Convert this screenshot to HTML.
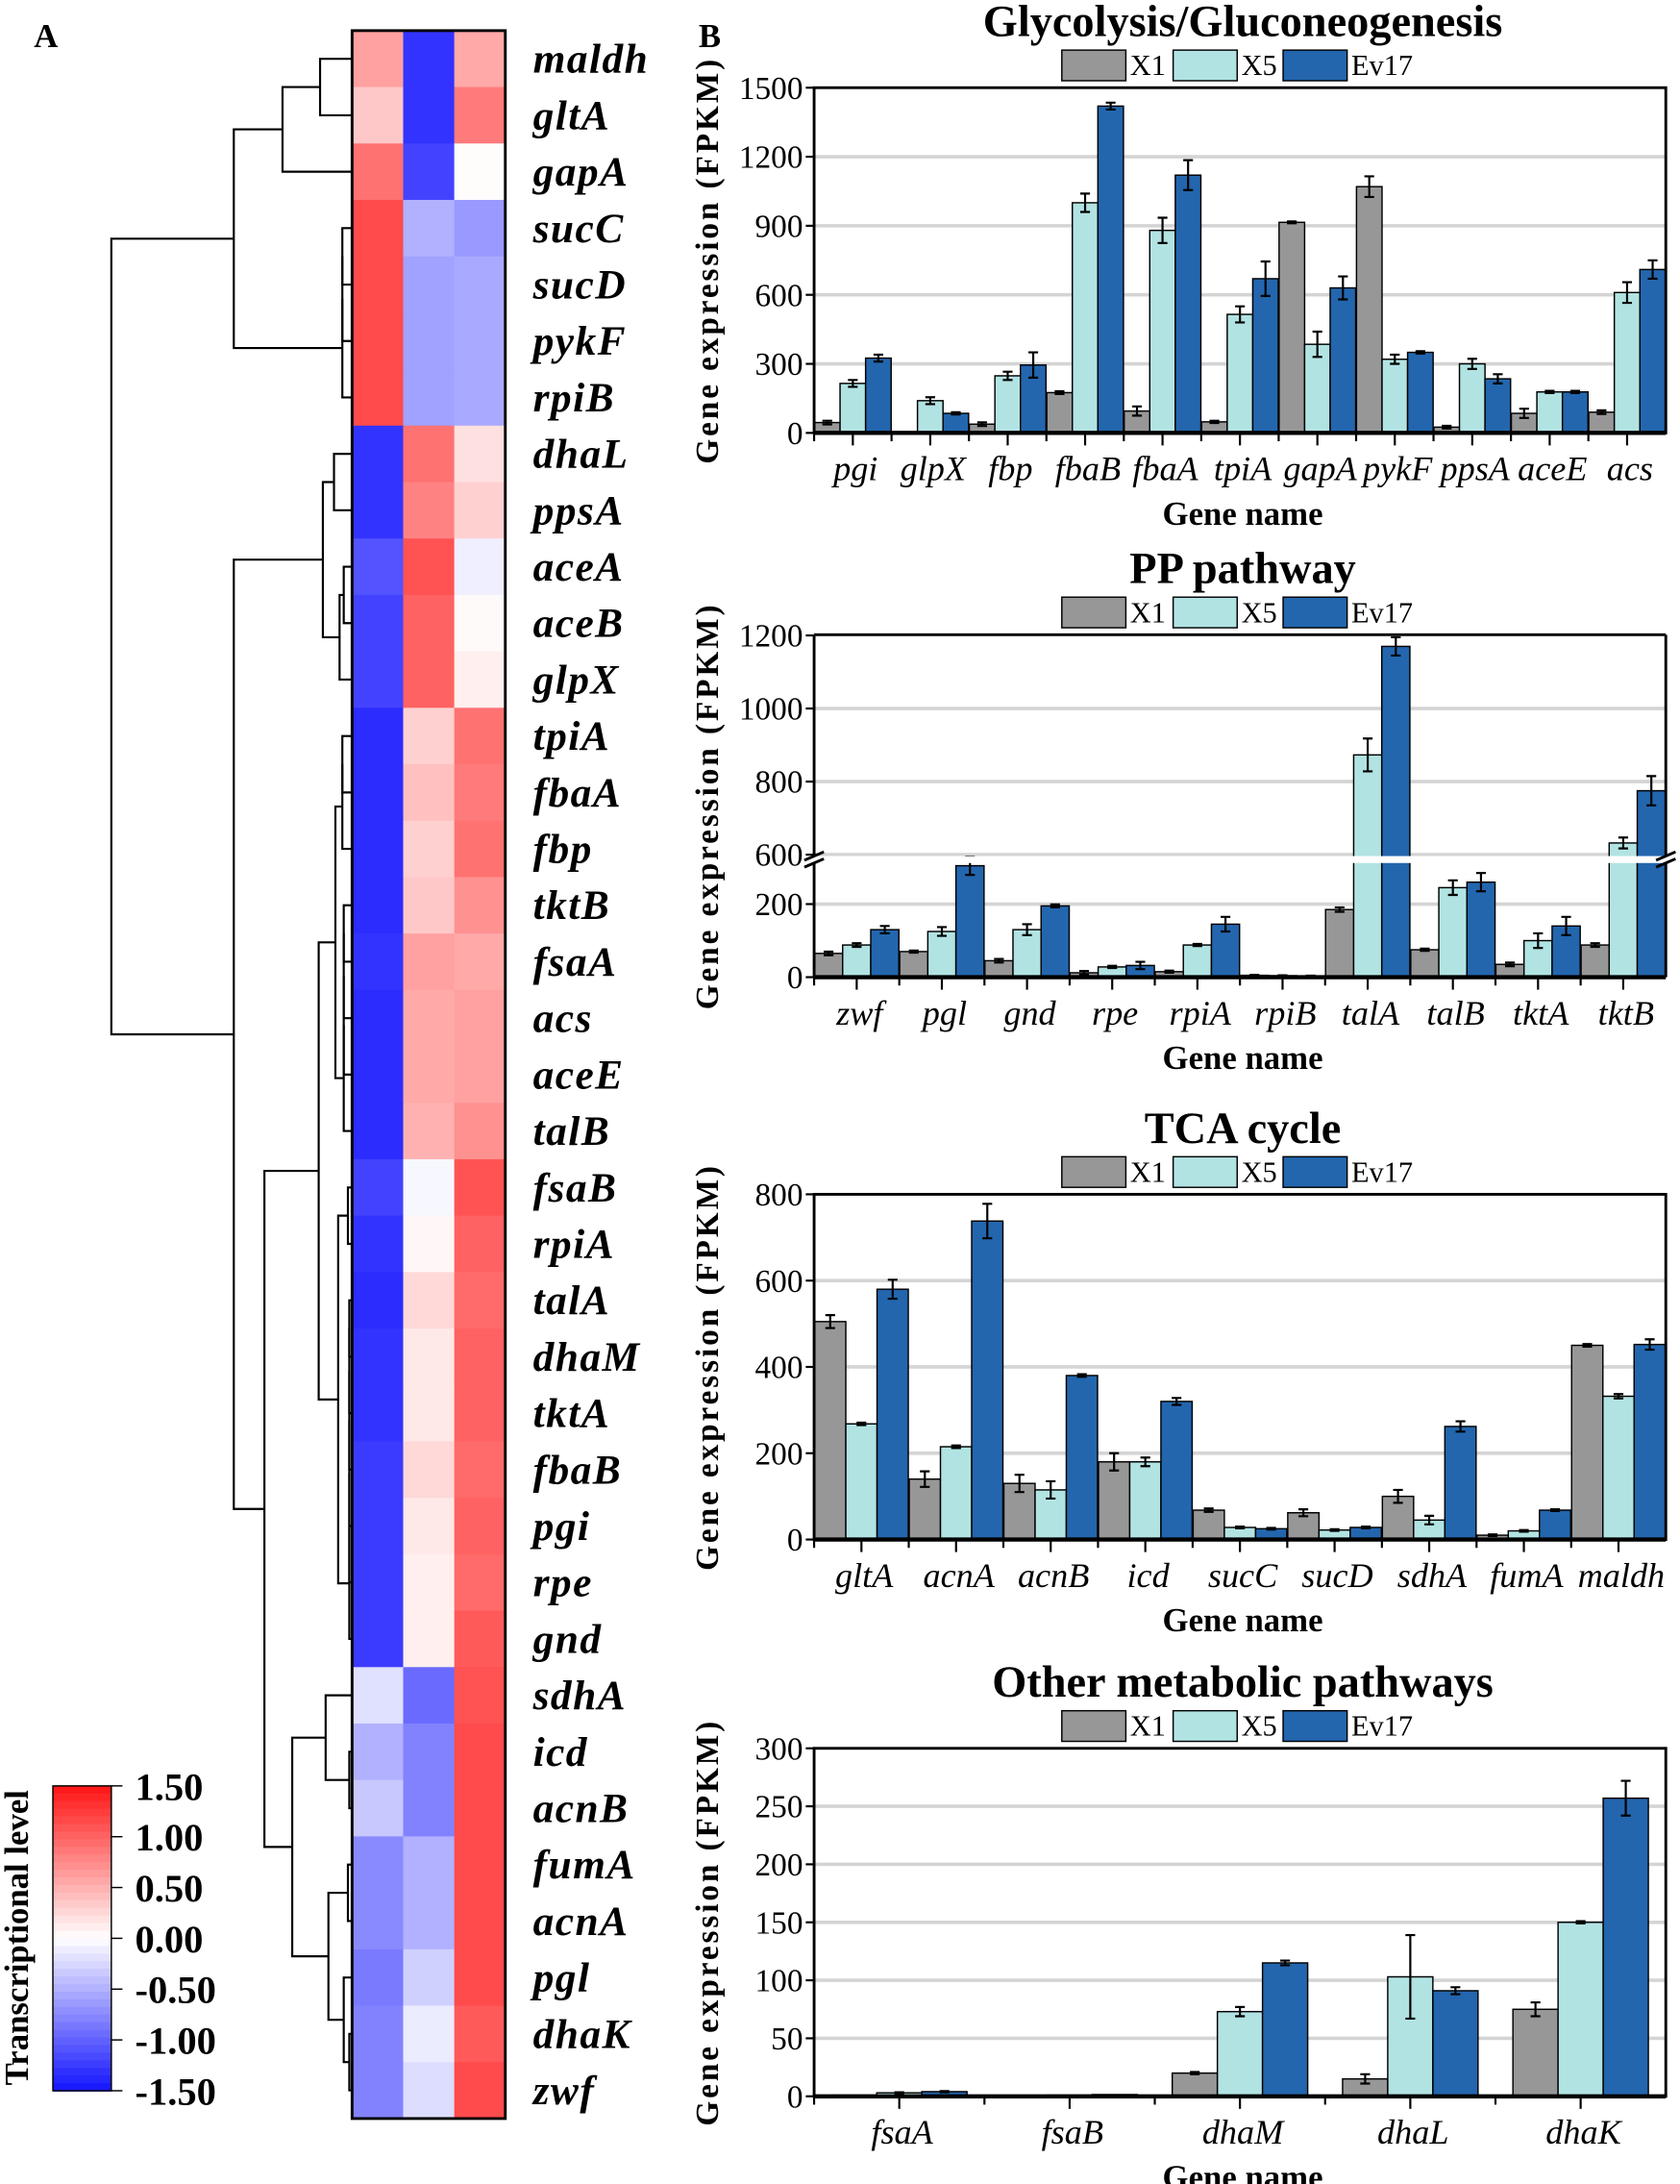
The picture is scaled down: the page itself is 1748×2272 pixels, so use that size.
<!DOCTYPE html>
<html><head><meta charset="utf-8"><style>
html,body{margin:0;padding:0;background:#fff}
svg{display:block}
text{font-family:"Liberation Serif",serif}
</style></head><body>
<svg id="fig" xmlns="http://www.w3.org/2000/svg" width="1748" height="2272" viewBox="0 0 1207.2 1569" preserveAspectRatio="none">
<text x="33" y="34" font-family="Liberation Sans" font-weight="bold" font-size="24" text-anchor="middle">A</text>
<text x="510" y="34" font-family="Liberation Sans" font-weight="bold" font-size="24" text-anchor="middle">B</text>
<g id="heat"></g>
<g id="dendro" stroke="#000" stroke-width="1.5" fill="none"></g>
<g id="cbar"></g>
<g id="c1"></g>
<g id="c2"></g>
<g id="c3"></g>
<g id="c4"></g>
</svg>
<script>
// ---------- Heatmap data ----------
const heatGenes = ["maldh","gltA","gapA","sucC","sucD","pykF","rpiB","dhaL","ppsA","aceA","aceB","glpX","tpiA","fbaA","fbp","tktB","fsaA","acs","aceE","talB","fsaB","rpiA","talA","dhaM","tktA","fbaB","pgi","rpe","gnd","sdhA","icd","acnB","fumA","acnA","pgl","dhaK","zwf"];
const heatX1 = [0.6,0.35,0.9,1.15,1.15,1.15,1.15,-1.3,-1.3,-1.1,-1.2,-1.2,-1.35,-1.35,-1.35,-1.35,-1.3,-1.35,-1.35,-1.35,-1.2,-1.3,-1.35,-1.3,-1.3,-1.25,-1.25,-1.25,-1.25,-0.2,-0.5,-0.35,-0.75,-0.75,-0.85,-0.8,-0.8];
const heatX5 = [-1.3,-1.3,-1.2,-0.5,-0.6,-0.6,-0.6,0.9,0.8,1.1,1.0,1.0,0.3,0.4,0.3,0.35,0.6,0.55,0.55,0.5,-0.05,0.05,0.25,0.15,0.15,0.25,0.15,0.1,0.1,-0.95,-0.8,-0.8,-0.5,-0.5,-0.3,-0.12,-0.22];
const heatEv17 = [0.55,0.85,0.02,-0.65,-0.55,-0.55,-0.55,0.2,0.3,-0.1,0.03,0.1,0.9,0.85,0.9,0.7,0.55,0.6,0.6,0.7,1.1,1.0,0.95,1.0,1.0,0.95,1.0,0.95,1.05,1.1,1.15,1.15,1.15,1.15,1.15,1.05,1.15];
const cbarTicks = [1.5,1.0,0.5,0.0,-0.5,-1.0,-1.5];
const cbarLabels = ["1.50","1.00","0.50","0.00","-0.50","-1.00","-1.50"];

const NS="http://www.w3.org/2000/svg";
function mk(tag,attrs,parent){const e=document.createElementNS(NS,tag);for(const k in attrs)e.setAttribute(k,attrs[k]);if(parent)parent.appendChild(e);return e;}
function col(v){const t=Math.max(-1,Math.min(1,v/1.5));
 if(t>=0){const g=Math.round(255-t*(255-20));return `rgb(255,${g},${g})`;}
 const g=Math.round(255+t*(255-20));return `rgb(${g},${g},255)`;}

const hx=253,hy=22,cw=36.7,rh=40.54;
const heat=document.getElementById('heat');
const cols=[heatX1,heatX5,heatEv17];
for(let i=0;i<heatGenes.length;i++){
 for(let c=0;c<3;c++){
  const r=mk('rect',{x:hx+c*cw,y:hy+i*rh,width:cw+0.5,height:rh+0.5,fill:col(cols[c][i])},heat);
  
  
 }
 const t=mk('text',{x:383,y:hy+i*rh+rh/2+10,'font-size':30,'font-weight':'bold','font-style':'italic','letter-spacing':'1'},heat);
 t.textContent=heatGenes[i];
 
 
}
mk('rect',{x:hx,y:hy,width:cw*3,height:rh*37,fill:'none',stroke:'#000','stroke-width':2},heat);

// ---------- Dendrogram ----------
const dend=document.getElementById('dendro');
function leaf(i){return {x:253,y:hy+i*rh+rh/2};}
function join(a,b,x){mk('path',{d:`M${a.x},${a.y}H${x}V${b.y}H${b.x}`},dend);return {x:x,y:(a.y+b.y)/2};}
function chain(idx,x){let n=leaf(idx[0]);for(let k=1;k<idx.length;k++){n=join(n,leaf(idx[k]),x);}return n;}
const A=join(leaf(0),leaf(1),230);const B=join(A,leaf(2),203);
const E=chain([3,4,5,6],246);const F=join(B,E,168);
const g1=join(leaf(7),leaf(8),240);const g2=join(leaf(9),leaf(10),247);const g3=join(g2,leaf(11),244);const G=join(g1,g3,232);
const h1=chain([12,13,14],246);const h2=chain([15,16,17,18,19],247);const H=join(h1,h2,241);
const i1=join(leaf(20),leaf(21),250);const i2=chain([22,23,24,25,26,27,28],251);const I=join(i1,i2,243);
const HI=join(H,I,229);
const j1=join(leaf(30),leaf(31),251);const j2=join(leaf(29),j1,234);const j3=join(leaf(32),leaf(33),250);
const j4=join(leaf(35),leaf(36),251);const j5=join(leaf(34),j4,247);const j6=join(j3,j5,236);const J=join(j2,j6,210);
const K=join(HI,J,190);const L=join(G,K,168);join(F,L,80);

// ---------- Colorbar ----------
const cb=document.getElementById('cbar');
const cbx=38,cby=1283,cbw=42,cbh=219;
for(let k=0;k<40;k++){const v=1.5-3*(k+0.5)/40;mk('rect',{x:cbx,y:cby+k*cbh/40,width:cbw,height:cbh/40+0.6,fill:col(v)},cb);}
mk('rect',{x:cbx,y:cby,width:cbw,height:cbh,fill:'none',stroke:'#000','stroke-width':1},cb);
cbarTicks.forEach((v,k)=>{const y=cby+(1.5-v)/3*cbh;mk('line',{x1:cbx+cbw,x2:cbx+cbw+8,y1:y,y2:y,stroke:'#000'},cb);
 const t=mk('text',{x:97,y:y+10,'font-size':28,'font-weight':'bold'},cb);t.textContent=cbarLabels[k];
 
 });
const ct=mk('text',{x:0,y:0,'font-size':24,'font-weight':'bold',transform:'translate(20,1392) rotate(-90)','text-anchor':'middle'},cb);
ct.textContent='Transcriptional level';



// ---------- Bar chart data ----------
const c1Genes=["pgi","glpX","fbp","fbaB","fbaA","tpiA","gapA","pykF","ppsA","aceE","acs"];
const c1X1=[45,0,38,175,95,48,915,1070,25,85,90];
const c1X5=[215,140,248,1000,880,515,385,320,300,178,610];
const c1Ev17=[325,85,295,1420,1120,670,630,350,235,178,710];
const c1eX1=[8,0,8,6,20,5,4,45,6,20,8];
const c1eX5=[15,15,18,40,55,35,55,20,22,5,45];
const c1eEv17=[15,5,55,15,65,75,50,5,20,5,40];
const c1Ticks=[0,300,600,900,1200,1500];

const c2Genes=["zwf","pgl","gnd","rpe","rpiA","rpiB","talA","talB","tktA","tktB"];
const c2X1=[65,70,45,12,15,5,185,75,35,88];
const c2X5=[88,125,130,28,88,4,873,245,100,632];
const c2Ev17=[130,305,195,32,145,3,1170,260,140,775];
const c2eX1=[5,3,5,5,3,1,6,3,5,5];
const c2eX5=[5,12,15,3,3,1,45,20,20,15];
const c2eEv17=[10,25,4,10,20,1,25,25,25,40];
const c2TicksLow=[0,200];
const c2TicksHigh=[600,800,1000,1200];

const c3Genes=["gltA","acnA","acnB","icd","sucC","sucD","sdhA","fumA","maldh"];
const c3X1=[505,140,130,180,68,62,100,10,450];
const c3X5=[268,215,115,180,28,22,45,20,332];
const c3Ev17=[580,738,380,320,25,28,262,68,452];
const c3eX1=[15,18,20,20,4,8,15,2,3];
const c3eX5=[3,3,20,10,2,2,10,2,5];
const c3eEv17=[22,40,3,8,2,2,12,2,12];
const c3Ticks=[0,200,400,600,800];

const c4Genes=["fsaA","fsaB","dhaM","dhaL","dhaK"];
const c4X1=[1,0.5,20,15,75];
const c4X5=[3,1,73,103,150];
const c4Ev17=[4,1.5,115,91,257];
const c4eX1=[0,0,1,4,6];
const c4eX5=[0.5,0,4,36,1];
const c4eEv17=[0.5,0,2,3,15];
const c4Ticks=[0,50,100,150,200,250,300];

const COLORS=["#979797","#b2e3e3","#2366ae"];
const SERIES=["X1","X5","Ev17"];

function drawChart(gid,o){
 const g=document.getElementById(gid);
 const L=585,R=1197,T=o.top,B=o.bottom;
 const yfun=o.yfun;
 const tt=mk('text',{x:893,y:T-37,'font-size':32,'font-weight':'bold','text-anchor':'middle'},g);
 tt.textContent=o.title;
 const lx=[763,843,922];
 SERIES.forEach((s,k)=>{
  const r=mk('rect',{x:lx[k],y:T-27,width:46,height:22,fill:COLORS[k],stroke:'#000','stroke-width':1},g);
  
  const t=mk('text',{x:lx[k]+49,y:T-9,'font-size':21},g);t.textContent=s;
  
 });
 o.ticks.forEach(v=>{const y=yfun(v);
  if(v!==0&&y>T+2) mk('line',{x1:L,x2:R,y1:y,y2:y,stroke:'#d4d4d4','stroke-width':2.5},g);
  mk('line',{x1:L-6,x2:L,y1:y,y2:y,stroke:'#000','stroke-width':1.5},g);
  const t=mk('text',{x:L-8,y:y+8,'font-size':23,'text-anchor':'end'},g);t.textContent=String(v);
  
 });
 const n=o.genes.length,band=(R-L)/n,bw=band*o.bwf;
 const sets=[[o.x1,o.e1],[o.x5,o.e5],[o.ev,o.ee]];
 for(let i=0;i<n;i++){
  const cx=L+band*(i+0.5);
  sets.forEach((sv,k)=>{
   const v=sv[0][i],e=sv[1][i];
   const x=cx+(k-1.5)*bw;
   const y=yfun(v);
   const r=mk('rect',{x:x,y:y,width:bw,height:Math.max(0,B-y),fill:COLORS[k],stroke:'#000','stroke-width':1},g);
   
   
   if(e>0){const y1=yfun(v+e),y2=yfun(Math.max(0,v-e)),ex=x+bw/2;
    mk('path',{d:`M${ex},${y1}V${y2}M${ex-3.5},${y1}H${ex+3.5}M${ex-3.5},${y2}H${ex+3.5}`,stroke:'#000','stroke-width':1.5,fill:'none'},g);}
  });
  const t=mk('text',{x:cx+2,y:B+34,'font-size':25,'font-style':'italic','text-anchor':'middle'},g);t.textContent=o.genes[i];
  
  mk('line',{x1:cx,x2:cx,y1:B,y2:B+9,stroke:'#000','stroke-width':1.5},g);
  mk('line',{x1:L+band*i,x2:L+band*i,y1:B,y2:B+6,stroke:'#000','stroke-width':1.5},g);
 }
 if(o.breakY){const[a,b]=o.breakY;
  mk('rect',{x:L-3,y:a,width:R-L+6,height:b-a,fill:'#fff'},g);
  mk('path',{d:`M${L-7},${a+3}L${L+7},${a-3}M${L-7},${b+3}L${L+7},${b-3}M${R-7},${a+3}L${R+7},${a-3}M${R-7},${b+3}L${R+7},${b-3}`,stroke:'#000','stroke-width':2},g);
  mk('path',{d:`M${L},${T}V${a}M${L},${b}V${B}M${R},${T}V${a}M${R},${b}V${B}M${L},${T}H${R}`,stroke:'#000','stroke-width':2,fill:'none'},g);
  mk('line',{x1:L,x2:R,y1:B,y2:B,stroke:'#000','stroke-width':3},g);
 } else {
  mk('rect',{x:L,y:T,width:R-L,height:B-T,fill:'none',stroke:'#000','stroke-width':2},g);
  mk('line',{x1:L,x2:R,y1:B,y2:B,stroke:'#000','stroke-width':3},g);
 }
 const yl=mk('text',{x:0,y:0,'font-size':23,'font-weight':'bold','text-anchor':'middle','letter-spacing':'2',transform:`translate(516,${(T+B)/2}) rotate(-90)`},g);
 yl.textContent='Gene expression (FPKM)';
 const xl=mk('text',{x:893,y:B+66,'font-size':24,'font-weight':'bold','text-anchor':'middle'},g);
 xl.textContent='Gene name';
}

drawChart('c1',{title:'Glycolysis/Gluconeogenesis',top:63,bottom:311,genes:c1Genes,x1:c1X1,x5:c1X5,ev:c1Ev17,e1:c1eX1,e5:c1eX5,ee:c1eEv17,ticks:c1Ticks,bwf:0.33,
 yfun:v=>311-v*(248/1500)});
const k2=52.5/200;
drawChart('c2',{title:'PP pathway',top:456,bottom:702,genes:c2Genes,x1:c2X1,x5:c2X5,ev:c2Ev17,e1:c2eX1,e5:c2eX5,ee:c2eEv17,ticks:c2TicksLow.concat(c2TicksHigh),bwf:0.33,breakY:[615,620],
 yfun:v=>v<=450?702-v*k2:614-(v-600)*k2});
drawChart('c3',{title:'TCA cycle',top:858,bottom:1106,genes:c3Genes,x1:c3X1,x5:c3X5,ev:c3Ev17,e1:c3eX1,e5:c3eX5,ee:c3eEv17,ticks:c3Ticks,bwf:0.33,
 yfun:v=>1106-v*(248/800)});
drawChart('c4',{title:'Other metabolic pathways',top:1256,bottom:1506,genes:c4Genes,x1:c4X1,x5:c4X5,ev:c4Ev17,e1:c4eX1,e5:c4eX5,ee:c4eEv17,ticks:c4Ticks,bwf:0.265,
 yfun:v=>1506-v*(250/300)});
</script>
</body></html>
